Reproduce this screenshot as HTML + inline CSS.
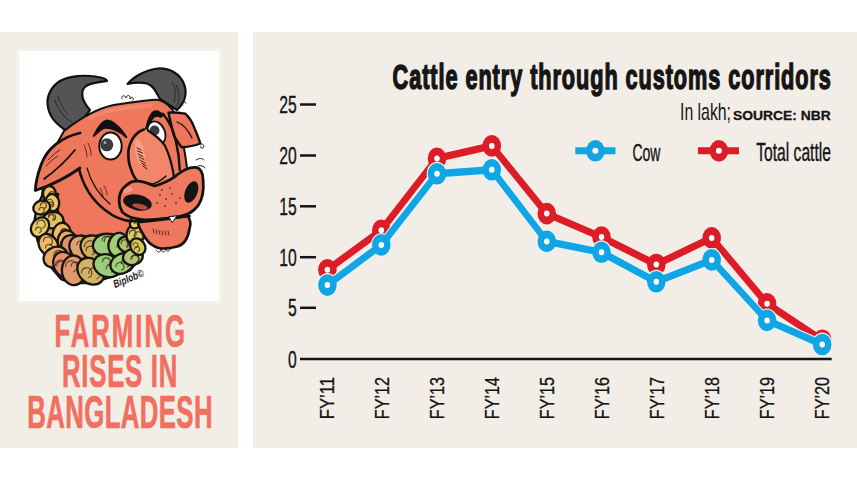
<!DOCTYPE html>
<html><head><meta charset="utf-8">
<style>
html,body{margin:0;padding:0;background:#fff;}
body{width:857px;height:482px;position:relative;overflow:hidden;font-family:"Liberation Sans",sans-serif;}
.panel{position:absolute;background:#f2eee7;}
#lp{left:0;top:32px;width:238px;height:416px;background:#f1eee6;}
#rp{left:253px;top:32px;width:604px;height:416px;}
#wb{position:absolute;left:16px;top:48px;width:200px;height:250px;background:#fff;border:3px solid #f4f2eb;}
svg{position:absolute;left:0;top:0;}
</style></head><body>
<div class="panel" id="lp"></div>
<div class="panel" id="rp"></div>
<div id="wb"></div>
<svg width="857" height="482" viewBox="0 0 857 482">
<g font-family="Liberation Sans, sans-serif">
<g id="cartoon" stroke-linejoin="round" stroke-linecap="round">
<!-- horns -->
<path d="M66.3 131 C58 125, 49 118, 47.6 105 C46.5 95, 52 86, 60 81 C70 75.5, 85 75, 95 76.5 C102 77.5, 107 79, 107 81 C100 82, 90 83, 86 86 C80 91, 81 100, 90 110 L82 121 Z" fill="#545454" stroke="#111" stroke-width="2.2"/>
<path d="M127.6 84 C133 77, 145 70, 158 68.5 C170 68, 180 74, 184 84 C188 94, 184 104, 177 110 L160 99 C156 92, 154 86, 147 83.5 C140 82, 132 83, 127.6 84 Z" fill="#545454" stroke="#111" stroke-width="2.2"/>
<path d="M55 100 C58 110, 64 118, 72 122 M58 96 C60 104, 64 110, 68 114 M176 85 C180 92, 180 100, 177 106 M172 82 C176 88, 176 96, 174 102" fill="none" stroke="#2a2a2a" stroke-width="1"/>
<!-- head -->
<path d="M64 131 C78 120, 100 106, 120 104 C135 102, 150 99, 157 99.7 C162 100, 166 102, 172 109 C180 120, 184 145, 187 168 L196 200 L185 216 L140 224 L138 250 L110 268 L65 268 L40 215 L45 165 Z" fill="#ee775c" stroke="#111" stroke-width="2"/>
<path d="M90 118 C105 110, 125 107, 150 106" fill="none" stroke="#f49479" stroke-width="4" opacity="0.6"/>
<!-- left ear -->
<path d="M80 133 C62 137, 47 148, 41 165 C37 176, 35.5 186, 35.4 190.5 C46 187, 62 181, 80 168 C84 156, 84 142, 80 133 Z" fill="#ee765b" stroke="none"/>
<path d="M80 133 C62 137, 47 148, 41 165 C37 176, 35.5 186, 35.4 190.5 C46 187, 62 181, 80 168" fill="none" stroke="#111" stroke-width="2.8"/>
<path d="M44 179 C55 171, 66 161, 75 150" fill="none" stroke="#111" stroke-width="1.8"/>
<path d="M48 160 C52 156, 56 152, 60 150 M46 166 C50 162, 54 158, 58 156" fill="none" stroke="#5a2a1a" stroke-width="1"/>
<!-- right ear -->
<path d="M168.5 112.7 C175 112, 181 113, 185.3 113.7 C190 118, 193 124, 194.7 128.6 C197 134, 199 139, 200.3 143.5 C194 146, 187 147, 181.6 147.3 C178 143, 176 139, 174 136 C172 128, 170 120, 168.5 112.7 Z" fill="#ee765b" stroke="#111" stroke-width="2.4"/>
<path d="M177 122 C183 124, 188 130, 192 138" fill="none" stroke="#111" stroke-width="1.3"/>
<!-- right face contour -->
<path d="M163 113.7 C170 122, 174 132, 176 141.7 C178 150, 179.5 160, 179.7 169.7" fill="none" stroke="#111" stroke-width="2.4"/>
<!-- jaw line -->
<path d="M79 169 C83 185, 92 200, 105 210 C115 218, 124 221, 132 221" fill="none" stroke="#111" stroke-width="2.6"/>
<path d="M87 168 C91 182, 99 195, 110 204" fill="none" stroke="#111" stroke-width="1.2"/>
<path d="M84 145 c2 4 3 8 3 12 M88 143 c2 4 3 8 3 12 M100 188 c2 3 3 6 3 9 M104 186 c2 3 3 6 3 9" fill="none" stroke="#6a2a1a" stroke-width="1"/>
<!-- garland -->
<path d="M42.0 196.0 L37.0 207.0 L33.5 226.0 L38.0 242.0 L45.0 255.0 L50.0 266.0 L61.0 279.0 L72.0 283.0 L89.0 283.0 L104.0 279.0 L118.0 274.5 L130.0 270.0 L140.0 259.0 L142.0 248.0 L140.0 238.0 L137.0 226.0 L133.0 220.0 L132.0 224.0 L131.0 229.0 L128.0 236.0 L124.0 239.5 L115.0 235.0 L103.5 234.0 L96.0 236.0 L86.0 238.0 L80.0 238.0 L77.0 238.0 L74.0 236.0 L67.0 227.0 L58.0 212.0 L57.0 200.0 L58.0 194.0 Z" fill="#d9a860" stroke="#151515" stroke-width="2.5"/>
<g><ellipse cx="49.5" cy="194.0" rx="8.0" ry="6.4" fill="rgb(241,193,103)" stroke="#151515" stroke-width="2.3" transform="rotate(87 49.5 194.0)"/><path d="M48.3 195.9 a2.6 2.6 0 1 1 3.6 2.3" fill="none" stroke="#3a2418" stroke-width="1.1" opacity="0.8"/><path d="M49.0 194.5 a2.8 2.8 0 1 1 3.9 2.5" fill="none" stroke="#3a2418" stroke-width="1.1" opacity="0.8"/><ellipse cx="52.4" cy="202.6" rx="8.6" ry="6.8" fill="rgb(236,200,104)" stroke="#151515" stroke-width="2.3" transform="rotate(80 52.4 202.6)"/><path d="M48.5 204.7 a2.6 2.6 0 1 1 3.6 2.3" fill="none" stroke="#3a2418" stroke-width="1.1" opacity="0.8"/><path d="M46.7 202.6 a3.2 3.2 0 1 1 4.4 2.8" fill="none" stroke="#3a2418" stroke-width="1.1" opacity="0.8"/><ellipse cx="53.0" cy="220.2" rx="10.4" ry="8.3" fill="rgb(226,196,95)" stroke="#151515" stroke-width="2.3" transform="rotate(178 53.0 220.2)"/><path d="M48.7 217.5 a2.7 2.7 0 1 1 3.8 2.4" fill="none" stroke="#3a2418" stroke-width="1.1" opacity="0.8"/><path d="M48.4 217.2 a3.6 3.6 0 1 1 5.1 3.2" fill="none" stroke="#3a2418" stroke-width="1.1" opacity="0.8"/><ellipse cx="61.7" cy="234.1" rx="11.4" ry="9.1" fill="rgb(238,188,99)" stroke="#151515" stroke-width="2.3" transform="rotate(98 61.7 234.1)"/><path d="M60.8 231.9 a3.4 3.4 0 1 1 4.8 3.1" fill="none" stroke="#3a2418" stroke-width="1.1" opacity="0.8"/><path d="M61.4 232.9 a3.5 3.5 0 1 1 4.8 3.1" fill="none" stroke="#3a2418" stroke-width="1.1" opacity="0.8"/><ellipse cx="67.8" cy="242.5" rx="12.3" ry="9.8" fill="rgb(234,168,102)" stroke="#151515" stroke-width="2.3" transform="rotate(73 67.8 242.5)"/><path d="M66.8 245.2 a3.5 3.5 0 1 1 4.9 3.2" fill="none" stroke="#3a2418" stroke-width="1.1" opacity="0.8"/><path d="M60.3 244.9 a4.7 4.7 0 1 1 6.5 4.2" fill="none" stroke="#3a2418" stroke-width="1.1" opacity="0.8"/><ellipse cx="74.3" cy="247.2" rx="13.8" ry="11.1" fill="rgb(224,145,112)" stroke="#151515" stroke-width="2.3" transform="rotate(35 74.3 247.2)"/><path d="M70.8 243.4 a5.3 5.3 0 1 1 7.4 4.7" fill="none" stroke="#3a2418" stroke-width="1.1" opacity="0.8"/><path d="M69.3 251.3 a4.3 4.3 0 1 1 6.0 3.9" fill="none" stroke="#3a2418" stroke-width="1.1" opacity="0.8"/><ellipse cx="83.0" cy="248.5" rx="14.7" ry="11.8" fill="rgb(223,161,112)" stroke="#151515" stroke-width="2.3" transform="rotate(38 83.0 248.5)"/><path d="M82.8 250.7 a4.0 4.0 0 1 1 5.6 3.6" fill="none" stroke="#3a2418" stroke-width="1.1" opacity="0.8"/><path d="M76.9 244.8 a3.7 3.7 0 1 1 5.2 3.3" fill="none" stroke="#3a2418" stroke-width="1.1" opacity="0.8"/><ellipse cx="94.4" cy="248.5" rx="14.8" ry="11.9" fill="rgb(211,173,96)" stroke="#151515" stroke-width="2.3" transform="rotate(37 94.4 248.5)"/><path d="M86.0 250.7 a4.5 4.5 0 1 1 6.3 4.1" fill="none" stroke="#3a2418" stroke-width="1.1" opacity="0.8"/><path d="M84.5 246.7 a5.8 5.8 0 1 1 8.2 5.2" fill="none" stroke="#3a2418" stroke-width="1.1" opacity="0.8"/><ellipse cx="106.8" cy="244.8" rx="13.9" ry="11.1" fill="rgb(157,204,125)" stroke="#151515" stroke-width="2.3" transform="rotate(173 106.8 244.8)"/><path d="M102.1 240.6 a4.4 4.4 0 1 1 6.2 4.0" fill="none" stroke="#3a2418" stroke-width="1.1" opacity="0.8"/><path d="M104.2 241.7 a5.5 5.5 0 1 1 7.7 4.9" fill="none" stroke="#3a2418" stroke-width="1.1" opacity="0.8"/><ellipse cx="118.2" cy="244.9" rx="12.1" ry="9.7" fill="rgb(159,206,121)" stroke="#151515" stroke-width="2.3" transform="rotate(100 118.2 244.9)"/><path d="M116.9 247.1 a4.2 4.2 0 1 1 5.8 3.7" fill="none" stroke="#3a2418" stroke-width="1.1" opacity="0.8"/><path d="M118.4 246.2 a3.1 3.1 0 1 1 4.4 2.8" fill="none" stroke="#3a2418" stroke-width="1.1" opacity="0.8"/><ellipse cx="127.9" cy="244.5" rx="10.0" ry="8.0" fill="rgb(182,197,106)" stroke="#151515" stroke-width="2.3" transform="rotate(13 127.9 244.5)"/><path d="M127.0 246.3 a3.4 3.4 0 1 1 4.7 3.0" fill="none" stroke="#3a2418" stroke-width="1.1" opacity="0.8"/><path d="M121.1 243.8 a3.9 3.9 0 1 1 5.5 3.5" fill="none" stroke="#3a2418" stroke-width="1.1" opacity="0.8"/><ellipse cx="133.8" cy="236.8" rx="8.8" ry="7.0" fill="rgb(217,192,90)" stroke="#151515" stroke-width="2.3" transform="rotate(96 133.8 236.8)"/><path d="M132.8 238.9 a2.5 2.5 0 1 1 3.5 2.3" fill="none" stroke="#3a2418" stroke-width="1.1" opacity="0.8"/><path d="M129.6 239.0 a2.7 2.7 0 1 1 3.8 2.4" fill="none" stroke="#3a2418" stroke-width="1.1" opacity="0.8"/><ellipse cx="136.2" cy="233.3" rx="11.5" ry="9.2" fill="rgb(219,204,101)" stroke="#151515" stroke-width="2.3" transform="rotate(119 136.2 233.3)"/><path d="M129.3 233.7 a3.4 3.4 0 1 1 4.8 3.1" fill="none" stroke="#3a2418" stroke-width="1.1" opacity="0.8"/><path d="M134.1 236.0 a4.2 4.2 0 1 1 5.8 3.8" fill="none" stroke="#3a2418" stroke-width="1.1" opacity="0.8"/><ellipse cx="135.7" cy="222.4" rx="6.6" ry="5.3" fill="rgb(234,201,100)" stroke="#151515" stroke-width="2.3" transform="rotate(132 135.7 222.4)"/><path d="M135.1 222.7 a2.6 2.6 0 1 1 3.6 2.3" fill="none" stroke="#3a2418" stroke-width="1.1" opacity="0.8"/><path d="M131.9 222.0 a1.8 1.8 0 1 1 2.5 1.6" fill="none" stroke="#3a2418" stroke-width="1.1" opacity="0.8"/><ellipse cx="41.7" cy="207.5" rx="8.6" ry="6.8" fill="rgb(233,194,100)" stroke="#151515" stroke-width="2.3" transform="rotate(164 41.7 207.5)"/><path d="M40.4 205.6 a3.0 3.0 0 1 1 4.2 2.7" fill="none" stroke="#3a2418" stroke-width="1.1" opacity="0.8"/><path d="M39.0 210.1 a2.6 2.6 0 1 1 3.7 2.3" fill="none" stroke="#3a2418" stroke-width="1.1" opacity="0.8"/><ellipse cx="40.0" cy="227.1" rx="10.4" ry="8.3" fill="rgb(228,204,98)" stroke="#151515" stroke-width="2.3" transform="rotate(128 40.0 227.1)"/><path d="M35.5 229.9 a2.9 2.9 0 1 1 4.1 2.7" fill="none" stroke="#3a2418" stroke-width="1.1" opacity="0.8"/><path d="M37.0 224.3 a4.1 4.1 0 1 1 5.8 3.7" fill="none" stroke="#3a2418" stroke-width="1.1" opacity="0.8"/><ellipse cx="48.3" cy="244.8" rx="11.4" ry="9.1" fill="rgb(237,188,105)" stroke="#151515" stroke-width="2.3" transform="rotate(58 48.3 244.8)"/><path d="M45.6 248.0 a3.7 3.7 0 1 1 5.2 3.3" fill="none" stroke="#3a2418" stroke-width="1.1" opacity="0.8"/><path d="M43.3 241.4 a4.5 4.5 0 1 1 6.4 4.1" fill="none" stroke="#3a2418" stroke-width="1.1" opacity="0.8"/><ellipse cx="55.4" cy="257.0" rx="12.3" ry="9.8" fill="rgb(236,168,102)" stroke="#151515" stroke-width="2.3" transform="rotate(154 55.4 257.0)"/><path d="M55.1 256.0 a3.9 3.9 0 1 1 5.4 3.5" fill="none" stroke="#3a2418" stroke-width="1.1" opacity="0.8"/><path d="M53.9 255.5 a4.9 4.9 0 1 1 6.8 4.4" fill="none" stroke="#3a2418" stroke-width="1.1" opacity="0.8"/><ellipse cx="65.1" cy="265.1" rx="13.8" ry="11.1" fill="rgb(235,144,108)" stroke="#151515" stroke-width="2.3" transform="rotate(58 65.1 265.1)"/><path d="M56.9 265.9 a4.2 4.2 0 1 1 5.8 3.7" fill="none" stroke="#3a2418" stroke-width="1.1" opacity="0.8"/><path d="M55.5 265.6 a5.5 5.5 0 1 1 7.7 5.0" fill="none" stroke="#3a2418" stroke-width="1.1" opacity="0.8"/><ellipse cx="73.7" cy="270.4" rx="14.7" ry="11.8" fill="rgb(226,151,111)" stroke="#151515" stroke-width="2.3" transform="rotate(88 73.7 270.4)"/><path d="M71.2 266.2 a3.9 3.9 0 1 1 5.4 3.5" fill="none" stroke="#3a2418" stroke-width="1.1" opacity="0.8"/><path d="M65.6 266.6 a5.7 5.7 0 1 1 8.0 5.1" fill="none" stroke="#3a2418" stroke-width="1.1" opacity="0.8"/><ellipse cx="90.8" cy="271.2" rx="14.8" ry="11.9" fill="rgb(211,180,98)" stroke="#151515" stroke-width="2.3" transform="rotate(45 90.8 271.2)"/><path d="M81.6 273.0 a5.1 5.1 0 1 1 7.2 4.6" fill="none" stroke="#3a2418" stroke-width="1.1" opacity="0.8"/><path d="M88.8 273.5 a5.8 5.8 0 1 1 8.1 5.2" fill="none" stroke="#3a2418" stroke-width="1.1" opacity="0.8"/><ellipse cx="107.1" cy="265.7" rx="13.9" ry="11.1" fill="rgb(157,203,126)" stroke="#151515" stroke-width="2.3" transform="rotate(21 107.1 265.7)"/><path d="M102.6 261.6 a3.8 3.8 0 1 1 5.4 3.5" fill="none" stroke="#3a2418" stroke-width="1.1" opacity="0.8"/><path d="M106.2 268.7 a3.8 3.8 0 1 1 5.3 3.4" fill="none" stroke="#3a2418" stroke-width="1.1" opacity="0.8"/><ellipse cx="122.1" cy="263.5" rx="12.1" ry="9.7" fill="rgb(161,209,118)" stroke="#151515" stroke-width="2.3" transform="rotate(152 122.1 263.5)"/><path d="M121.5 263.1 a4.2 4.2 0 1 1 5.9 3.8" fill="none" stroke="#3a2418" stroke-width="1.1" opacity="0.8"/><path d="M116.0 266.5 a4.0 4.0 0 1 1 5.6 3.6" fill="none" stroke="#3a2418" stroke-width="1.1" opacity="0.8"/><ellipse cx="132.9" cy="256.9" rx="10.0" ry="8.0" fill="rgb(181,196,113)" stroke="#151515" stroke-width="2.3" transform="rotate(166 132.9 256.9)"/><path d="M131.7 258.7 a3.6 3.6 0 1 1 5.1 3.3" fill="none" stroke="#3a2418" stroke-width="1.1" opacity="0.8"/><path d="M130.9 259.2 a4.0 4.0 0 1 1 5.6 3.6" fill="none" stroke="#3a2418" stroke-width="1.1" opacity="0.8"/><ellipse cx="137.8" cy="246.6" rx="8.8" ry="7.0" fill="rgb(212,202,88)" stroke="#151515" stroke-width="2.3" transform="rotate(54 137.8 246.6)"/><path d="M134.6 249.1 a2.5 2.5 0 1 1 3.5 2.3" fill="none" stroke="#3a2418" stroke-width="1.1" opacity="0.8"/><path d="M133.0 245.2 a2.5 2.5 0 1 1 3.6 2.3" fill="none" stroke="#3a2418" stroke-width="1.1" opacity="0.8"/></g>

<!-- eyes -->
<ellipse cx="110.5" cy="146.1" rx="11.2" ry="13.5" fill="#fff" stroke="#111" stroke-width="2"/>
<circle cx="106.8" cy="144.8" r="6.5" fill="#3a3d40"/>
<circle cx="105" cy="142.5" r="1.5" fill="#9aa"/>
<ellipse cx="156.5" cy="133" rx="8.5" ry="12" fill="#fff" stroke="#111" stroke-width="1.8" transform="rotate(-22 156.5 133)"/>
<circle cx="154.5" cy="130.5" r="5" fill="#3a3d40"/>
<!-- nose bridge -->
<path d="M144 129.5 C136 132, 130 140, 128.4 151 C128 160, 129 165, 131.2 169.7 C133 176, 136 180, 138.7 182.8 L174 179 C173 170, 172 163, 170.4 160.3 C168 152, 166 148, 164.8 145.4 C158 137, 152 131, 148 130.5 Z" fill="#f2866a" stroke="none"/>
<ellipse cx="140" cy="152" rx="4.5" ry="13" fill="#f7a68c" opacity="0.8" transform="rotate(-12 140 152)"/>
<path d="M144 129.5 C136 132, 130 140, 128.4 151 C128 160, 129 165, 131.2 169.7 C133 176, 136 180, 138.7 182.8" fill="none" stroke="#111" stroke-width="2.6"/>
<path d="M148 130.5 C155 135, 161 140, 164.8 145.4 C167 150, 169 155, 170.4 160.3 C172 166, 173.5 172, 174.1 179" fill="none" stroke="#111" stroke-width="2.2"/>
<path d="M137 148 l4 2 M137.5 151 l5 2 M138 154 l5 2.5 M139 157 l5 2.5 M140 160 l5 3 M141.5 163 l4.5 3 M143 166 l4 3" fill="none" stroke="#4a1a10" stroke-width="1"/>
<!-- brows -->
<path d="M93.7 136 C98 127, 103 121, 107 120.5 C112 121, 120 126, 126.4 137.3 C119 130, 110 127, 104 128 C100 130, 97 133, 93.7 136 Z" fill="#111" stroke="#111" stroke-width="1.8"/>
<path d="M146 128.6 C148 120, 150 114, 153.6 111.8 C157 110, 160 112, 163 115.5 L160.5 117 C157 115, 154 116, 152 119 C150 122, 148 126, 146 128.6 Z" fill="#111" stroke="#111" stroke-width="1.8"/>
<!-- snout -->
<path d="M119.1 200.5 C119 193, 122 187, 131.5 181.8 C138 180, 148 183, 154.4 186 C162 184, 170 180, 175.1 176.6 C180 172, 188 167, 195.9 167.3 C200 168, 203 172, 203.1 180 C204 190, 202 200, 198 205.7 C194 211, 190 213, 187.6 214 C180 217, 170 219, 152.3 220.2 C140 220, 128 218, 122.2 211.9 C120 208, 119 204, 119.1 200.5 Z" fill="#ef7a5f" stroke="#111" stroke-width="2.8"/>
<ellipse cx="128" cy="190" rx="5" ry="2.5" fill="#f7a08a" opacity="0.8" transform="rotate(-20 128 190)"/>
<path d="M150 185 C157 183, 162 180, 166 176" fill="none" stroke="#111" stroke-width="1.5"/>
<ellipse cx="137.5" cy="202.5" rx="14.5" ry="7.8" fill="#141414" transform="rotate(12 137.5 202.5)"/>
<ellipse cx="140" cy="206.5" rx="8" ry="2.6" fill="#b84a40" transform="rotate(12 140 206.5)"/>
<ellipse cx="191.3" cy="192" rx="6.2" ry="11.2" fill="#141414" transform="rotate(22 191.3 192)"/>
<g fill="#7a2a1a"><circle cx="160" cy="195" r="0.9"/><circle cx="166" cy="199" r="0.9"/><circle cx="172" cy="194" r="0.9"/><circle cx="165" cy="206" r="0.9"/><circle cx="176" cy="203" r="0.9"/><circle cx="157" cy="203" r="0.9"/><circle cx="170" cy="188" r="0.9"/><circle cx="180" cy="198" r="0.9"/><circle cx="162" cy="190" r="0.9"/></g>
<!-- lower lip -->
<path d="M137.7 222.3 C150 221, 170 219, 187.6 216 C190 219, 191 224, 189.6 228.5 C188 239, 183 245, 177.2 246.5 C170 248.5, 163 249, 158.5 248 C152 246, 148 242, 146 238.8 C142 232, 139 229, 137.7 222.3 Z" fill="#ee785d" stroke="#111" stroke-width="2.6"/>
<path d="M131.5 221.2 C150 220, 170 218, 189.6 216" fill="none" stroke="#111" stroke-width="2.4"/>
<path d="M169 217 L172 222.5 L177 216 Z" fill="#fff" stroke="#111" stroke-width="0.9"/>
<path d="M153 229 l1 4 M156 230 l1 4 M159 230.5 l1 4 M162 231 l1 4 M165 231 l1 4 M168 231 l1 4" fill="none" stroke="#6a2a1a" stroke-width="1"/>
<!-- curls -->
<path d="M122 99 c-2 -3 3 -5 4 -1 c1 -4 5 -3 4 1 c1 -3 4 -2 3 1 M186 103 c-3 -3 -6 0 -3 2 M200 144 c3 -1 5 2 3 4 c-2 1 -3 -1 -2 -2 M156 250 c2 3 4 3 5 -1 c1 4 3 4 5 0 c1 3 3 3 4 0 M196 160 c3 -2 6 -2 8 0 M198 166 c3 -1 6 0 7 2" fill="none" stroke="#222" stroke-width="1"/>
<!-- signature -->
<text x="115" y="288" font-size="11" font-style="italic" font-weight="bold" fill="#222" transform="rotate(-22 115 288)" textLength="32" lengthAdjust="spacingAndGlyphs">Biplob©</text>
</g>

<g fill="#f06f60" stroke="#f06f60" stroke-width="0.7" font-weight="bold" font-size="46">
<text transform="translate(54.5,346.6) scale(0.56,1)" x="0" y="0" textLength="233" lengthAdjust="spacing">FARMING</text>
<text transform="translate(62,387.2) scale(0.56,1)" x="0" y="0" textLength="206" lengthAdjust="spacing">RISES IN</text>
<text transform="translate(27.2,428.4) scale(0.56,1)" x="0" y="0" textLength="331" lengthAdjust="spacing">BANGLADESH</text>
</g>
<text transform="translate(392.6,88.6) scale(0.62,1)" font-size="35" font-weight="bold" fill="#151515" stroke="#151515" stroke-width="1.5" textLength="707" lengthAdjust="spacing">Cattle entry through customs corridors</text>
<text x="680" y="119.8" font-size="23.8" fill="#151515" textLength="51" lengthAdjust="spacingAndGlyphs">In lakh;</text>
<text x="733" y="120" font-size="13.4" font-weight="bold" fill="#151515" stroke="#151515" stroke-width="0.3" textLength="97.7" lengthAdjust="spacingAndGlyphs">SOURCE: NBR</text>
<line x1="575.3" y1="150.8" x2="615.5" y2="150.8" stroke="#12a5e3" stroke-width="7"/>
<ellipse cx="595.4" cy="150.8" rx="9.3" ry="10.8" fill="#12a5e3"/><circle cx="595.4" cy="150.8" r="3.0" fill="#fff"/>
<text x="632.4" y="160.7" font-size="24.6" fill="#151515" stroke="#151515" stroke-width="0.4" textLength="28" lengthAdjust="spacingAndGlyphs">Cow</text>
<line x1="697.9" y1="150.8" x2="739" y2="150.8" stroke="#dc1d27" stroke-width="7"/>
<ellipse cx="718.9" cy="150.8" rx="9.3" ry="10.8" fill="#dc1d27"/><circle cx="718.9" cy="150.8" r="3.0" fill="#fff"/>
<text x="756.2" y="161.2" font-size="25.4" fill="#151515" stroke="#151515" stroke-width="0.4" textLength="74.8" lengthAdjust="spacingAndGlyphs">Total cattle</text>
<g fill="#151515" stroke="#151515" stroke-width="0.4" font-size="24.5">
<text transform="translate(296.8,113.1) scale(0.64,1)" text-anchor="end">25</text>
<text transform="translate(296.8,164.1) scale(0.64,1)" text-anchor="end">20</text>
<text transform="translate(296.8,214.9) scale(0.64,1)" text-anchor="end">15</text>
<text transform="translate(296.8,265.8) scale(0.64,1)" text-anchor="end">10</text>
<text transform="translate(296.8,316.4) scale(0.64,1)" text-anchor="end">5</text>
<text transform="translate(296.8,367.5) scale(0.64,1)" text-anchor="end">0</text>
</g>
<g stroke="#151515" stroke-width="2.5"><line x1="300" y1="104.5" x2="316" y2="104.5"/><line x1="300" y1="155.5" x2="316" y2="155.5"/><line x1="300" y1="206.3" x2="316" y2="206.3"/><line x1="300" y1="257.2" x2="316" y2="257.2"/><line x1="300" y1="307.8" x2="316" y2="307.8"/><line x1="300" y1="358.9" x2="831.7" y2="358.9"/></g>
<g fill="#151515" stroke="#151515" stroke-width="0.3" font-size="20">
<text transform="translate(334.4,419.2) rotate(-90)" textLength="42.3" lengthAdjust="spacingAndGlyphs">FY’11</text>
<text transform="translate(389.4,419.2) rotate(-90)" textLength="42.3" lengthAdjust="spacingAndGlyphs">FY’12</text>
<text transform="translate(444.4,419.2) rotate(-90)" textLength="42.3" lengthAdjust="spacingAndGlyphs">FY’13</text>
<text transform="translate(499.3,419.2) rotate(-90)" textLength="42.3" lengthAdjust="spacingAndGlyphs">FY’14</text>
<text transform="translate(554.3,419.2) rotate(-90)" textLength="42.3" lengthAdjust="spacingAndGlyphs">FY’15</text>
<text transform="translate(609.3,419.2) rotate(-90)" textLength="42.3" lengthAdjust="spacingAndGlyphs">FY’16</text>
<text transform="translate(664.3,419.2) rotate(-90)" textLength="42.3" lengthAdjust="spacingAndGlyphs">FY’17</text>
<text transform="translate(719.3,419.2) rotate(-90)" textLength="42.3" lengthAdjust="spacingAndGlyphs">FY’18</text>
<text transform="translate(774.2,419.2) rotate(-90)" textLength="42.3" lengthAdjust="spacingAndGlyphs">FY’19</text>
<text transform="translate(829.2,419.2) rotate(-90)" textLength="42.3" lengthAdjust="spacingAndGlyphs">FY’20</text>
</g>
<g transform="scale(0.860,1)"><polyline fill="none" stroke="#dc1d27" stroke-width="7.4" stroke-linejoin="round" points="380.70,269.8 443.37,230.3 508.14,158.4 571.86,145.9 635.81,213.6 699.42,237.1 763.14,264.5 827.56,237.9 891.98,303.8 956.05,340.2"/>
<circle cx="380.70" cy="269.8" r="10.8" fill="#dc1d27"/><ellipse cx="380.70" cy="269.8" rx="3.21" ry="3.0" fill="#fff"/><circle cx="443.37" cy="230.3" r="10.8" fill="#dc1d27"/><ellipse cx="443.37" cy="230.3" rx="3.21" ry="3.0" fill="#fff"/><circle cx="508.14" cy="158.4" r="10.8" fill="#dc1d27"/><ellipse cx="508.14" cy="158.4" rx="3.21" ry="3.0" fill="#fff"/><circle cx="571.86" cy="145.9" r="10.8" fill="#dc1d27"/><ellipse cx="571.86" cy="145.9" rx="3.21" ry="3.0" fill="#fff"/><circle cx="635.81" cy="213.6" r="10.8" fill="#dc1d27"/><ellipse cx="635.81" cy="213.6" rx="3.21" ry="3.0" fill="#fff"/><circle cx="699.42" cy="237.1" r="10.8" fill="#dc1d27"/><ellipse cx="699.42" cy="237.1" rx="3.21" ry="3.0" fill="#fff"/><circle cx="763.14" cy="264.5" r="10.8" fill="#dc1d27"/><ellipse cx="763.14" cy="264.5" rx="3.21" ry="3.0" fill="#fff"/><circle cx="827.56" cy="237.9" r="10.8" fill="#dc1d27"/><ellipse cx="827.56" cy="237.9" rx="3.21" ry="3.0" fill="#fff"/><circle cx="891.98" cy="303.8" r="10.8" fill="#dc1d27"/><ellipse cx="891.98" cy="303.8" rx="3.21" ry="3.0" fill="#fff"/><circle cx="956.05" cy="340.2" r="10.8" fill="#dc1d27"/><ellipse cx="956.05" cy="340.2" rx="3.21" ry="3.0" fill="#fff"/></g>
<g transform="scale(0.860,1)"><polyline fill="none" stroke="#e9f5fb" stroke-width="9.6" stroke-linejoin="round" points="380.70,285.1 443.37,244.9 508.14,173.8 571.86,169.8 635.81,241.4 699.42,252.3 763.14,281.8 827.56,259.9 891.98,320.4 956.05,344.5"/>
<circle cx="380.70" cy="285.1" r="12.0" fill="#e9f5fb"/><circle cx="443.37" cy="244.9" r="12.0" fill="#e9f5fb"/><circle cx="508.14" cy="173.8" r="12.0" fill="#e9f5fb"/><circle cx="571.86" cy="169.8" r="12.0" fill="#e9f5fb"/><circle cx="635.81" cy="241.4" r="12.0" fill="#e9f5fb"/><circle cx="699.42" cy="252.3" r="12.0" fill="#e9f5fb"/><circle cx="763.14" cy="281.8" r="12.0" fill="#e9f5fb"/><circle cx="827.56" cy="259.9" r="12.0" fill="#e9f5fb"/><circle cx="891.98" cy="320.4" r="12.0" fill="#e9f5fb"/><circle cx="956.05" cy="344.5" r="12.0" fill="#e9f5fb"/><polyline fill="none" stroke="#12a5e3" stroke-width="7.4" stroke-linejoin="round" points="380.70,285.1 443.37,244.9 508.14,173.8 571.86,169.8 635.81,241.4 699.42,252.3 763.14,281.8 827.56,259.9 891.98,320.4 956.05,344.5"/>
<circle cx="380.70" cy="285.1" r="10.8" fill="#12a5e3"/><ellipse cx="380.70" cy="285.1" rx="3.21" ry="3.0" fill="#fff"/><circle cx="443.37" cy="244.9" r="10.8" fill="#12a5e3"/><ellipse cx="443.37" cy="244.9" rx="3.21" ry="3.0" fill="#fff"/><circle cx="508.14" cy="173.8" r="10.8" fill="#12a5e3"/><ellipse cx="508.14" cy="173.8" rx="3.21" ry="3.0" fill="#fff"/><circle cx="571.86" cy="169.8" r="10.8" fill="#12a5e3"/><ellipse cx="571.86" cy="169.8" rx="3.21" ry="3.0" fill="#fff"/><circle cx="635.81" cy="241.4" r="10.8" fill="#12a5e3"/><ellipse cx="635.81" cy="241.4" rx="3.21" ry="3.0" fill="#fff"/><circle cx="699.42" cy="252.3" r="10.8" fill="#12a5e3"/><ellipse cx="699.42" cy="252.3" rx="3.21" ry="3.0" fill="#fff"/><circle cx="763.14" cy="281.8" r="10.8" fill="#12a5e3"/><ellipse cx="763.14" cy="281.8" rx="3.21" ry="3.0" fill="#fff"/><circle cx="827.56" cy="259.9" r="10.8" fill="#12a5e3"/><ellipse cx="827.56" cy="259.9" rx="3.21" ry="3.0" fill="#fff"/><circle cx="891.98" cy="320.4" r="10.8" fill="#12a5e3"/><ellipse cx="891.98" cy="320.4" rx="3.21" ry="3.0" fill="#fff"/><circle cx="956.05" cy="344.5" r="10.8" fill="#12a5e3"/><ellipse cx="956.05" cy="344.5" rx="3.21" ry="3.0" fill="#fff"/></g>
</g>
</svg>
</body></html>
